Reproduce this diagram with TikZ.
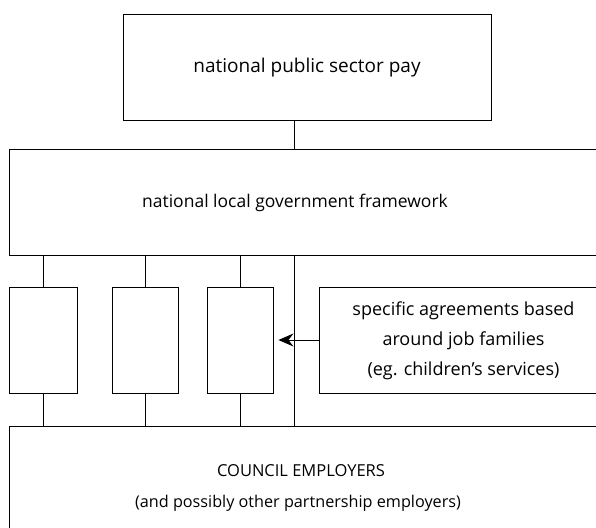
\documentclass[tikz,border=0pt]{standalone}
\usepackage{fontspec}
\setmainfont{Open Sans}
\usetikzlibrary{arrows.meta}
\begin{document}
\begin{tikzpicture}[x=1pt,y=-1pt,
  box/.style={draw=black, line width=0.9pt, rectangle, inner sep=0pt},
  conn/.style={draw=black, line width=0.9pt},
  lbl/.style={align=center, inner sep=0pt}]
\useasboundingbox (0,0) rectangle (596,527);
\clip (0,0) rectangle (596,527);
\node[box, minimum width=368, minimum height=106] (top) at (307,67) {};
\node[lbl, font=\fontsize{19}{30}\selectfont] (toptext) at (307,68) {national public sector pay};
\node[box, minimum width=611, minimum height=106] (mid) at (314.5,202) {};
\node[lbl, font=\fontsize{17.5}{30}\selectfont] (midtext) at (295,203) {national local government framework};
\node[box, minimum width=68, minimum height=106] (b1) at (43,340) {};
\node[box, minimum width=66, minimum height=106] (b2) at (145,340) {};
\node[box, minimum width=66, minimum height=106] (b3) at (240,340) {};
\node[box, minimum width=289, minimum height=106] (spec) at (463.5,340) {};
\node[lbl, font=\fontsize{18}{30}\selectfont] (spectext) at (463.5,341) {specific agreements based\\around job families\\(eg. children's services)};
\node[box, minimum width=611, minimum height=200] (bot) at (314.5,526) {};
\node[lbl, font=\fontsize{16.5}{18}\selectfont] (bottext1) at (301,471) {COUNCIL EMPLOYERS};
\node[lbl, font=\fontsize{16.2}{30}\selectfont] (bottext2) at (298,503) {(and possibly other partnership employers)};
\coordinate (vx) at (294,0);
\draw[conn] (vx |- top.south) -- (vx |- mid.north);
\draw[conn] (vx |- mid.south) -- (vx |- bot.north);
\foreach \b in {b1,b2,b3} {
  \draw[conn] (\b.north) -- (\b.north |- mid.south);
  \draw[conn] (\b.south) -- (\b.south |- bot.north);
}
\draw[conn, -{Stealth[length=15pt,width=13pt,inset=5pt]}] (spec.west) -- ([xshift=5pt]b3.east);
\end{tikzpicture}
\end{document}
